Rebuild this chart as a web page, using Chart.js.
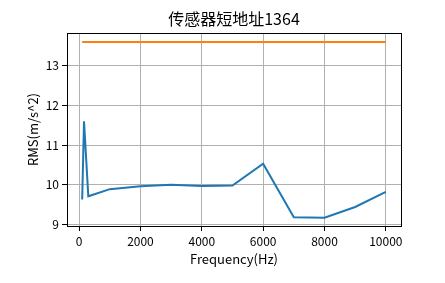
<!DOCTYPE html>
<html>
<head>
<meta charset="utf-8">
<script src="https://cdn.jsdelivr.net/npm/chart.js@4/dist/chart.umd.min.js"></script>
<style>
  html, body { margin: 0; padding: 0; background: #fff; }
  #wrap { width: 445px; height: 283px; position: relative; }
</style>
</head>
<body>
<div id="wrap"><canvas id="rmsChart" width="445" height="283"></canvas></div>
<script>
const FONT = '"Noto Sans CJK SC", "DejaVu Sans", sans-serif';
const TITLE = "传感器短地址1364";
const X_LABEL = "Frequency(Hz)";
const Y_LABEL = "RMS(m/s^2)";

// frequencies (Hz) and RMS values
const freqs = [100, 160, 300, 1000, 2000, 3000, 4000, 5000, 6000, 7000, 8000, 9000, 10000];
const rmsValues = [9.63, 11.6, 9.71, 9.89, 9.96, 10.0, 9.97, 9.98, 10.53, 9.18, 9.17, 9.44, 9.82];
const limitFreqs = [100, 10000];
const limitValues = [13.6, 13.6];
const xTicks = [0, 2000, 4000, 6000, 8000, 10000];
const yTicks = [9, 10, 11, 12, 13];

const toPoints = (xs, ys) => xs.map((x, i) => ({ x: x, y: ys[i] }));

// matplotlib style frame + title + axis labels
const framePlugin = {
  id: "frame",
  afterDraw(chart) {
    const { ctx, chartArea: a } = chart;
    ctx.save();
    ctx.strokeStyle = "#000";
    ctx.lineWidth = 1;
    ctx.strokeRect(Math.round(a.left) + 0.5, Math.round(a.top) + 0.5,
      Math.round(a.right - a.left), Math.round(a.bottom - a.top));
    ctx.fillStyle = "#000";
    ctx.textAlign = "center";
    ctx.textBaseline = "middle";
    const cx = (a.left + a.right) / 2;
    ctx.font = "16px " + FONT;
    ctx.fillText(TITLE, cx, 19);
    ctx.font = "13px " + FONT;
    ctx.fillText(X_LABEL, cx, 259);
    ctx.translate(33, (a.top + a.bottom) / 2);
    ctx.rotate(-Math.PI / 2);
    ctx.fillText(Y_LABEL, 0, 0);
    ctx.restore();
  }
};

new Chart(document.getElementById("rmsChart"), {
  type: "line",
  data: {
    datasets: [
      {
        data: toPoints(freqs, rmsValues),
        borderColor: "#1f77b4",
        borderWidth: 2,
        pointRadius: 0,
        tension: 0,
        fill: false
      },
      {
        data: toPoints(limitFreqs, limitValues),
        borderColor: "#ff7f0e",
        borderWidth: 2,
        pointRadius: 0,
        tension: 0,
        fill: false
      }
    ]
  },
  options: {
    responsive: false,
    animation: false,
    layout: { padding: { top: 33, right: 44, left: 0, bottom: 0 } },
    plugins: { legend: { display: false }, tooltip: { enabled: false } },
    scales: {
      x: {
        type: "linear",
        min: -395,
        max: 10495,
        afterFit(s) { s.height = 57; },
        afterBuildTicks(s) { s.ticks = xTicks.map(v => ({ value: v })); },
        grid: { color: "#b0b0b0", lineWidth: 1, tickColor: "#000", tickLength: 5 },
        border: { display: false },
        ticks: { color: "#000", font: { family: FONT, size: 12 }, padding: 3, maxRotation: 0,
          callback: v => String(v) }
      },
      y: {
        min: 8.96,
        max: 13.83,
        afterFit(s) { s.width = 67; },
        afterBuildTicks(s) { s.ticks = yTicks.map(v => ({ value: v })); },
        grid: { color: "#b0b0b0", lineWidth: 1, tickColor: "#000", tickLength: 5 },
        border: { display: false },
        ticks: { color: "#000", font: { family: FONT, size: 12 }, padding: 3,
          callback: v => String(v) }
      }
    }
  },
  plugins: [framePlugin]
});
</script>
</body>
</html>
